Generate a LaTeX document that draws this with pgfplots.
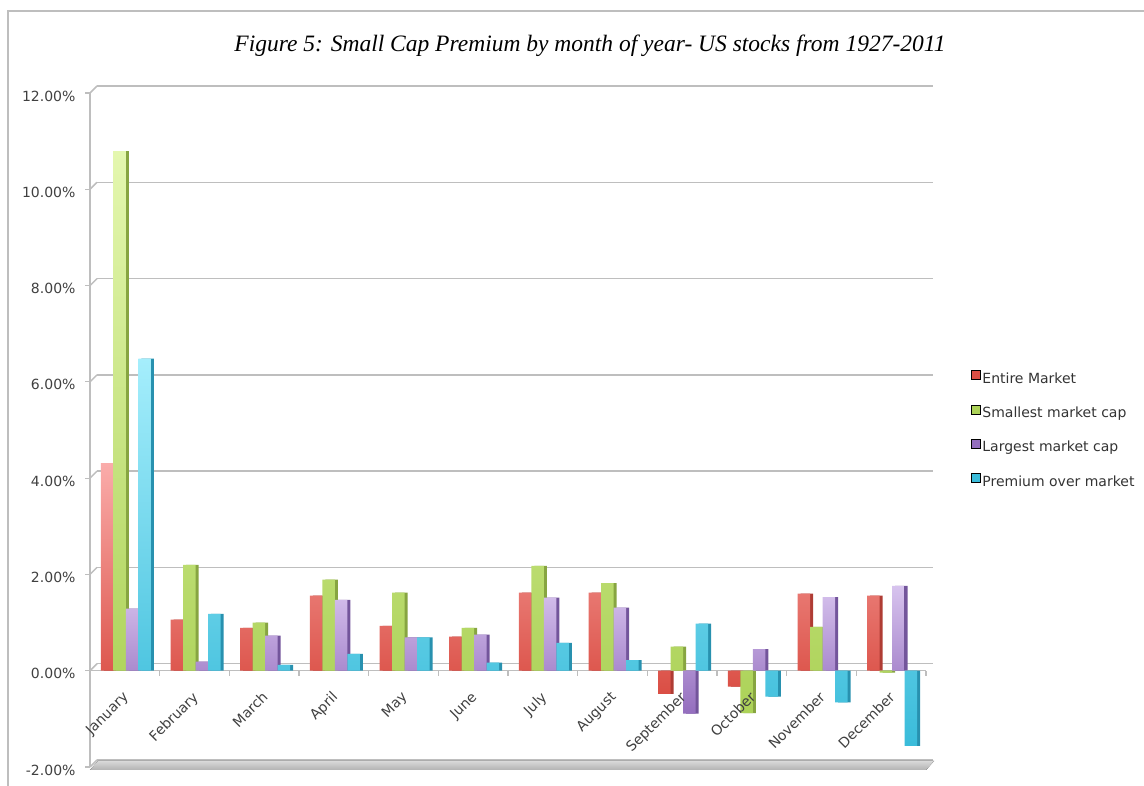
\documentclass[border=0pt]{standalone}
\usepackage{fontspec}
\setmainfont{DejaVu Sans}
\newfontfamily\titlefont{Liberation Serif}
\usepackage{pgfplots}
\pgfplotsset{compat=1.18}
\usepackage{pgfplotstable}

\definecolor{redT}{RGB}{250,172,170}
\definecolor{redB}{RGB}{218,78,68}
\definecolor{redS}{RGB}{175,60,52}
\definecolor{grnT}{RGB}{228,247,175}
\definecolor{grnB}{RGB}{172,210,88}
\definecolor{grnS}{RGB}{135,165,65}
\definecolor{purT}{RGB}{215,195,238}
\definecolor{purB}{RGB}{148,110,190}
\definecolor{purS}{RGB}{115,85,155}
\definecolor{cyaT}{RGB}{165,238,252}
\definecolor{cyaB}{RGB}{58,188,218}
\definecolor{cyaS}{RGB}{40,145,175}
\definecolor{axgray}{RGB}{190,190,190}

% monthly averages, per cent
\pgfplotstableread{
x  em     sm     lg     pr
0  4.31  10.79   1.29   6.48
1  1.06   2.20   0.19   1.18
2  0.89   1.00   0.73   0.12
3  1.56   1.89   1.47   0.35
4  0.93   1.62   0.69   0.69
5  0.71   0.89   0.75   0.17
6  1.62   2.18   1.52   0.58
7  1.62   1.82   1.31   0.22
8 -0.48   0.50  -0.89   0.98
9 -0.33  -0.88   0.45  -0.54
10 1.60   0.91   1.53  -0.66
11 1.56  -0.04   1.76  -1.56
}\monthly

\tikzset{month/.style={font=\fontsize{14}{14}\selectfont, rotate=45, anchor=north east, text=black!75}}

\begin{document}
\begin{tikzpicture}
\useasboundingbox (0,0) rectangle (1144pt,786pt);
\draw[axgray, line width=2pt] (8pt,0) -- (8pt,775pt) -- (1144pt,775pt);
\node[font=\titlefont\itshape\fontsize{23.5}{23.5}\selectfont] at (590pt,740pt)
  {Figure 5: Small Cap Premium by month of year- US stocks from 1927-2011};
\begin{axis}[
  at={(90pt,19pt)}, anchor=south west,
  scale only axis, width=836pt, height=674pt,
  clip=false,
  ybar, bar width=12.5pt,
  xmin=-0.5, xmax=11.5,
  ymin=-2, ymax=12,
  axis x line=middle, axis y line=left,
  axis line style={-, draw=axgray, line width=1.5pt},
  tick align=outside,
  tick style={draw=axgray, line width=1.2pt},
  major tick length=5pt, minor tick length=5pt,
  xtick={0,...,11},
  xtick style={draw=none},
  xticklabels={},
  minor xtick={-0.5,0.5,...,11.5},
  minor x tick style={draw=axgray, line width=1.2pt},
  ytick={-2,0,...,12},
  yticklabel={\pgfmathprintnumber[fixed,fixed zerofill,precision=2]{\tick}\%},
  /pgf/number format/assume math mode=true,
  yticklabel style={font=\fontsize{14}{14}\selectfont, xshift=-6pt, yshift=-3pt, text=black!75},
  ymajorgrids,
  major grid style={draw=axgray, line width=1.5pt, shift={(7pt,7pt)}},
  legend style={at={(1.05,0.5)}, anchor=west, draw=none, fill=none,
    font=\fontsize{14}{14}\selectfont, row sep=18pt, text=black!80},
  legend cell align=left,
  legend image code/.code={\fill[#1] (0pt,-1pt) rectangle (9pt,8pt);},
]
\addlegendimage{fill=redB}
\addlegendentry{Entire Market}
\addlegendimage{fill=grnB}
\addlegendentry{Smallest market cap}
\addlegendimage{fill=purB}
\addlegendentry{Largest market cap}
\addlegendimage{fill=cyaB}
\addlegendentry{Premium over market}

\pgfplotsinvokeforeach{-2,0,2,4,6,8,10,12}{
  \draw[axgray, line width=1.5pt] (axis cs:-0.5,#1) -- ++(7pt,7pt);
}
\fill[top color=gray!30, bottom color=gray!60]
  ([yshift=-3pt]axis cs:-0.5,-2) -- ([xshift=8pt,yshift=6pt]axis cs:-0.5,-2)
  -- ([xshift=8pt,yshift=6pt]axis cs:11.5,-2) -- ([yshift=-3pt]axis cs:11.5,-2) -- cycle;

\addplot[forget plot, draw=none, fill=redS, bar shift=-14.75pt] table[x=x,y=em] {\monthly};
\addplot[forget plot, draw=none, top color=redT, bottom color=redB, bar shift=-17.75pt] table[x=x,y=em] {\monthly};
\addplot[forget plot, draw=none, fill=grnS, bar shift=-2.25pt] table[x=x,y=sm] {\monthly};
\addplot[forget plot, draw=none, top color=grnT, bottom color=grnB, bar shift=-5.25pt] table[x=x,y=sm] {\monthly};
\addplot[forget plot, draw=none, fill=purS, bar shift=10.25pt] table[x=x,y=lg] {\monthly};
\addplot[forget plot, draw=none, top color=purT, bottom color=purB, bar shift=7.25pt] table[x=x,y=lg] {\monthly};
\addplot[forget plot, draw=none, fill=cyaS, bar shift=22.75pt] table[x=x,y=pr] {\monthly};
\addplot[forget plot, draw=none, top color=cyaT, bottom color=cyaB, bar shift=19.75pt] table[x=x,y=pr] {\monthly};

% month names, set over the bars
\node[month] at ([xshift=-3pt,yshift=-15pt]axis cs:0,0) {January};
\node[month] at ([xshift=-3pt,yshift=-15pt]axis cs:1,0) {February};
\node[month] at ([xshift=-3pt,yshift=-15pt]axis cs:2,0) {March};
\node[month] at ([xshift=-3pt,yshift=-15pt]axis cs:3,0) {April};
\node[month] at ([xshift=-3pt,yshift=-15pt]axis cs:4,0) {May};
\node[month] at ([xshift=-3pt,yshift=-15pt]axis cs:5,0) {June};
\node[month] at ([xshift=-3pt,yshift=-15pt]axis cs:6,0) {July};
\node[month] at ([xshift=-3pt,yshift=-15pt]axis cs:7,0) {August};
\node[month] at ([xshift=-3pt,yshift=-15pt]axis cs:8,0) {September};
\node[month] at ([xshift=-3pt,yshift=-15pt]axis cs:9,0) {October};
\node[month] at ([xshift=-3pt,yshift=-15pt]axis cs:10,0) {November};
\node[month] at ([xshift=-3pt,yshift=-15pt]axis cs:11,0) {December};
\end{axis}
\end{tikzpicture}
\end{document}
